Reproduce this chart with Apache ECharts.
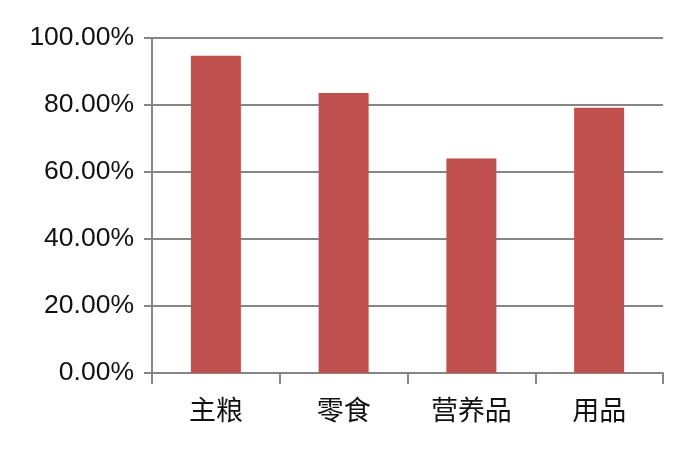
<!DOCTYPE html>
<html>
<head>
<meta charset="utf-8">
<script src="https://cdn.jsdelivr.net/npm/echarts@6/dist/echarts.min.js"></script>
<style>html,body{margin:0;padding:0;background:#fff;}#c{width:700px;height:454px;}</style>
</head>
<body>
<div id="c"></div>
<script>
const categories = ['主粮', '零食', '营养品', '用品'];
const values = [0.947, 0.836, 0.640, 0.792];
const yTicks = [0, 0.2, 0.4, 0.6, 0.8, 1.0];

const chart = echarts.init(document.getElementById('c'));
chart.setOption({
  animation: false,
  grid: { left: 152, right: 37, top: 38, bottom: 81 },
  xAxis: {
    type: 'category',
    data: categories,
    axisLine: { lineStyle: { color: '#868686', width: 2 } },
    axisTick: { show: true, length: 11, lineStyle: { color: '#868686', width: 2 } },
    axisLabel: { color: '#111', fontSize: 27, margin: 23, fontFamily: 'Noto Sans CJK SC' }
  },
  yAxis: {
    type: 'value',
    min: 0, max: 1, interval: 0.2,
    axisLine: { show: true, lineStyle: { color: '#868686', width: 2 } },
    axisTick: { show: true, length: 8, lineStyle: { color: '#868686', width: 2 } },
    splitLine: { lineStyle: { color: '#868686', width: 2 } },
    axisLabel: {
      color: '#111', fontSize: 26.5, margin: 18, fontFamily: 'Liberation Sans',
      formatter: v => (v * 100).toFixed(2) + '%'
    }
  },
  series: [{
    type: 'bar',
    data: values,
    barWidth: 50,
    itemStyle: { color: '#C0504D' }
  }]
});
</script>
</body>
</html>
